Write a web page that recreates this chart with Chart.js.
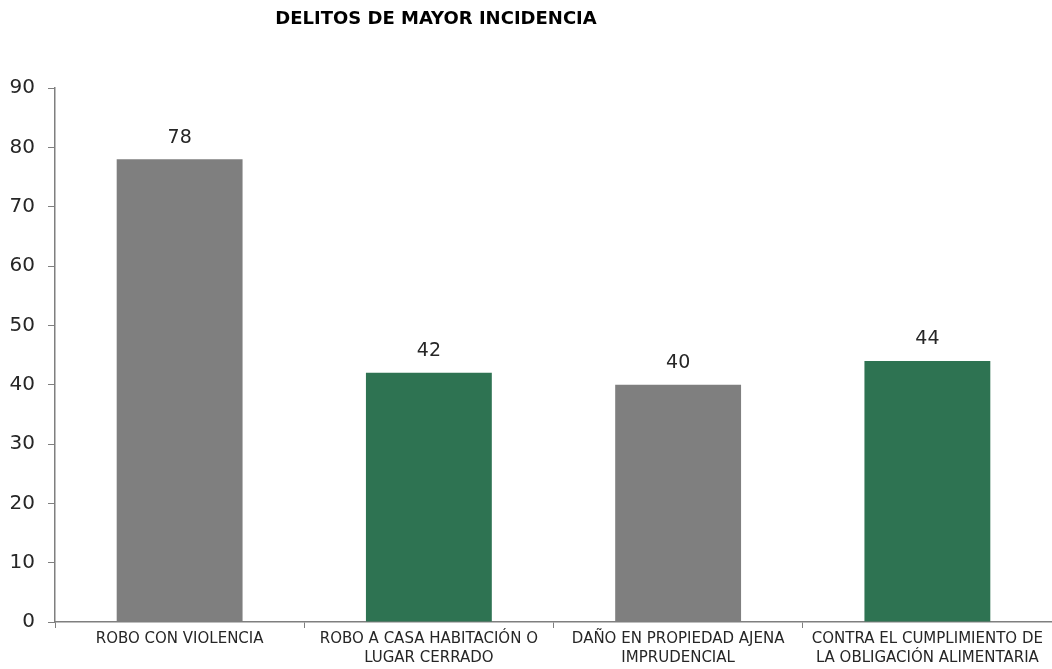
<!DOCTYPE html>
<html>
<head>
<meta charset="utf-8">
<script src="https://cdn.jsdelivr.net/npm/chart.js@4.4.1/dist/chart.umd.min.js"></script>
<style>
  html, body { margin: 0; padding: 0; background: #fff; }
  #wrap { width: 1052px; height: 669px; position: relative; }
</style>
</head>
<body>
<div id="wrap"><canvas id="delitosChart"></canvas></div>
<script>
const chartTitle = 'DELITOS DE MAYOR INCIDENCIA';
const categories = [
    ['ROBO CON VIOLENCIA'],
    ['ROBO A CASA HABITACIÓN O', 'LUGAR CERRADO'],
    ['DAÑO EN PROPIEDAD AJENA', 'IMPRUDENCIAL'],
    ['CONTRA EL CUMPLIMIENTO DE', 'LA OBLIGACIÓN ALIMENTARIA']
];
const casos = [78, 42, 40, 44];
const barColors = ['#7f7f7f', '#2e7352', '#7f7f7f', '#2e7352'];
const yMax = 90;
const yStep = 10;

const fontFamily = "'DejaVu Sans', sans-serif";

const delitosCtx = document.getElementById('delitosChart').getContext('2d');
const delitosChart = new Chart(delitosCtx, {
    type: 'bar',
    data: {
        labels: categories,
        datasets: [{
            label: 'Delitos',
            data: casos,
            backgroundColor: barColors,
            borderWidth: 0,
            categoryPercentage: 1.0,
            barPercentage: 0.505
        }]
    },
    options: {
        responsive: true,
        maintainAspectRatio: false,
        animation: false,
        layout: {
            padding: { top: 88, right: 0, bottom: 0, left: 0 }
        },
        scales: {
            x: {
                grid: {
                    offset: true,
                    drawOnChartArea: false,
                    drawTicks: true,
                    tickLength: 6,
                    color: '#7f7f7f'
                },
                border: { color: '#7f7f7f', width: 1.5 },
                ticks: {
                    color: '#262626',
                    font: { family: fontFamily, size: 15, lineHeight: 1.3 },
                    padding: 1,
                    maxRotation: 0,
                    autoSkip: false
                }
            },
            y: {
                min: 0,
                max: yMax,
                afterFit: (scale) => { scale.width = 55; },
                grid: {
                    drawOnChartArea: false,
                    drawTicks: true,
                    tickLength: 7,
                    color: '#7f7f7f'
                },
                border: { color: '#7f7f7f', width: 1.5 },
                ticks: {
                    stepSize: yStep,
                    color: '#262626',
                    font: { family: fontFamily, size: 20 },
                    padding: 13
                }
            }
        },
        plugins: {
            legend: { display: false },
            tooltip: { enabled: false }
        }
    },
    plugins: [{
        id: 'valueLabels',
        afterDatasetsDraw: function (chart) {
            const ctx = chart.ctx;
            const meta = chart.getDatasetMeta(0);
            ctx.save();
            ctx.fillStyle = '#262626';
            ctx.font = '19px ' + fontFamily;
            ctx.textAlign = 'center';
            ctx.textBaseline = 'bottom';
            meta.data.forEach((bar, i) => {
                ctx.fillText(chart.data.datasets[0].data[i], bar.x, bar.y - 12);
            });
            ctx.restore();
        }
    }, {
        id: 'offsetTitle',
        afterDraw: function (chart) {
            const ctx = chart.ctx;
            ctx.save();
            ctx.fillStyle = '#000';
            ctx.font = 'bold 18px ' + fontFamily;
            ctx.textAlign = 'center';
            ctx.textBaseline = 'middle';
            ctx.fillText(chartTitle, 436, 19);
            ctx.restore();
        }
    }]
});
</script>
</body>
</html>
